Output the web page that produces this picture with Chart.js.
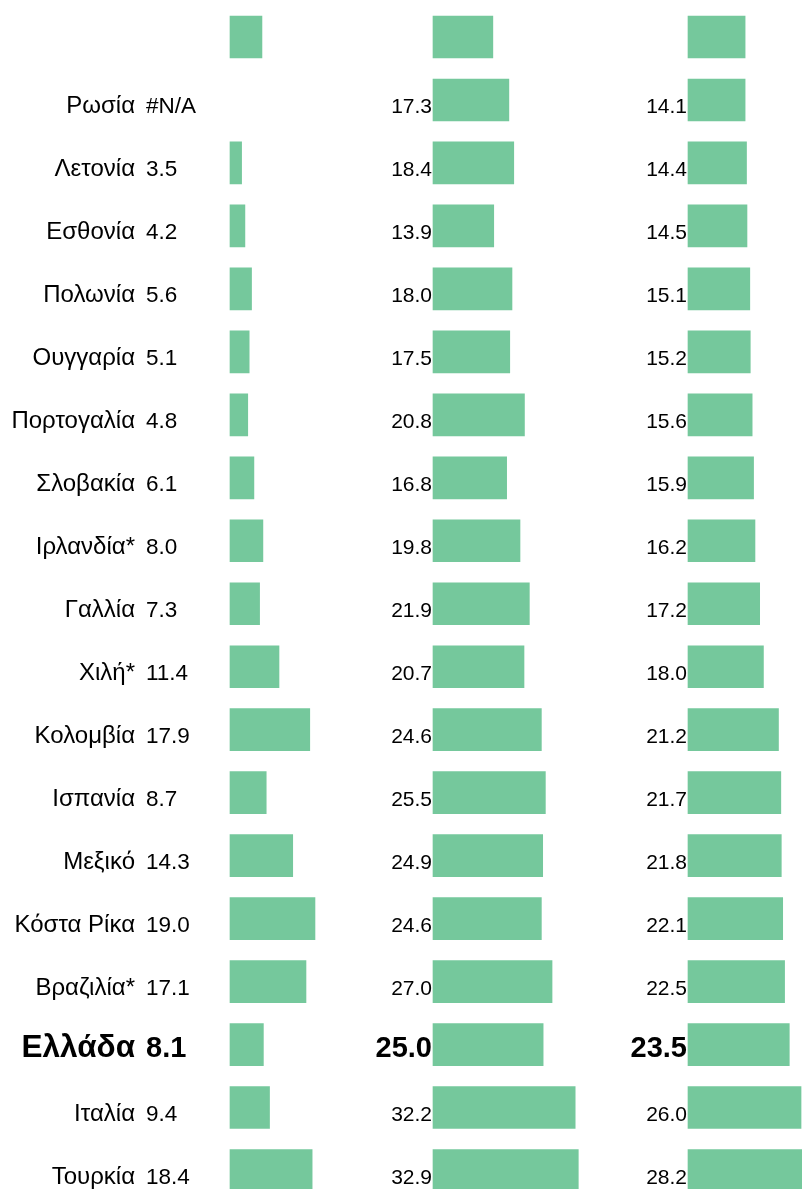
<!DOCTYPE html>
<html>
<head>
<meta charset="utf-8">
<script src="https://cdn.jsdelivr.net/npm/chart.js@4.4.1/dist/chart.umd.min.js"></script>
<style>
  html, body { margin: 0; padding: 0; background: #fff; overflow: hidden; }
  #myChart { display: block; }
</style>
</head>
<body>
<canvas id="myChart" width="802" height="1202"></canvas>
<script>
// countries, top to bottom (first row has no name shown)
const countries = ['', 'Ρωσία', 'Λετονία', 'Εσθονία', 'Πολωνία', 'Ουγγαρία', 'Πορτογαλία',
  'Σλοβακία', 'Ιρλανδία*', 'Γαλλία', 'Χιλή*', 'Κολομβία', 'Ισπανία', 'Μεξικό',
  'Κόστα Ρίκα', 'Βραζιλία*', 'Ελλάδα', 'Ιταλία', 'Τουρκία'];

// three columns of values, null = #N/A
const col1 = [7.8, null, 3.5, 4.2, 5.6, 5.1, 4.8, 6.1, 8.0, 7.3, 11.4, 17.9, 8.7, 14.3, 19.0, 17.1, 8.1, 9.4, 18.4];
const col2 = [13.7, 17.3, 18.4, 13.9, 18.0, 17.5, 20.8, 16.8, 19.8, 21.9, 20.7, 24.6, 25.5, 24.9, 24.6, 27.0, 25.0, 32.2, 32.9];
const col3 = [14.1, 14.1, 14.4, 14.5, 15.1, 15.2, 15.6, 15.9, 16.2, 17.2, 18.0, 21.2, 21.7, 21.8, 22.1, 22.5, 23.5, 26.0, 28.2];

const highlight = 'Ελλάδα';
const missingText = '#N/A';

const green = 'rgb(117,200,156)';
const W = 802;
const FONT = '"Liberation Sans", Arial, sans-serif';

// each column: where its bars start (px), px per unit, value at bar start
const panels = [
  { id: 'x1', start: 230, k: 4.734, base: 1.05 },
  { id: 'x2', start: 433, k: 4.45, base: 0.25 },
  { id: 'x3', start: 688, k: 4.7, base: 1.95 }
];

function axisFor(p) {
  return {
    type: 'linear',
    display: false,
    min: p.base - p.start / p.k,
    max: p.base + (W - p.start) / p.k
  };
}

// names and numbers next to the bars
const labelPlugin = {
  id: 'labels',
  afterDatasetsDraw(chart) {
    const ctx = chart.ctx;
    const y = chart.scales.y;
    const cols = [col1, col2, col3];
    ctx.save();
    ctx.fillStyle = '#000';
    ctx.textBaseline = 'alphabetic';
    countries.forEach((name, i) => {
      if (name === '') return;
      const bold = name === highlight;
      const cy = y.getPixelForValue(i);
      const base = cy + (bold ? 12 : 13);

      ctx.textAlign = 'right';
      ctx.font = bold ? 'bold 31.5px ' + FONT : '24px ' + FONT;
      ctx.fillText(name, 135, base);

      cols.forEach((col, c) => {
        const v = col[i];
        const txt = v === null ? missingText : v.toFixed(1);
        if (c === 0) {
          ctx.font = bold ? 'bold 29px ' + FONT : '22.5px ' + FONT;
          ctx.textAlign = 'left';
          ctx.fillText(txt, 146, base);
        } else {
          const sc = chart.scales[panels[c].id];
          ctx.font = bold ? 'bold 29px ' + FONT : '21px ' + FONT;
          ctx.textAlign = 'right';
          ctx.fillText(txt, sc.getPixelForValue(panels[c].base) - 1, base);
        }
      });
    });
    ctx.restore();
  }
};

const ctx = document.getElementById('myChart').getContext('2d');
const myChart = new Chart(ctx, {
  type: 'bar',
  data: {
    labels: countries,
    datasets: [col1, col2, col3].map((d, c) => ({
      data: d,
      xAxisID: panels[c].id,
      base: panels[c].base,
      backgroundColor: green,
      borderWidth: 0,
      barThickness: 42,
      grouped: false
    }))
  },
  options: {
    indexAxis: 'y',
    responsive: false,
    animation: false,
    devicePixelRatio: 1,
    layout: { padding: { top: 5.5, left: 0, right: 0, bottom: 0 } },
    plugins: { legend: { display: false }, tooltip: { enabled: false } },
    scales: {
      y: { type: 'category', display: false, offset: true },
      x1: axisFor(panels[0]),
      x2: axisFor(panels[1]),
      x3: axisFor(panels[2])
    }
  },
  plugins: [labelPlugin]
});
</script>
</body>
</html>
